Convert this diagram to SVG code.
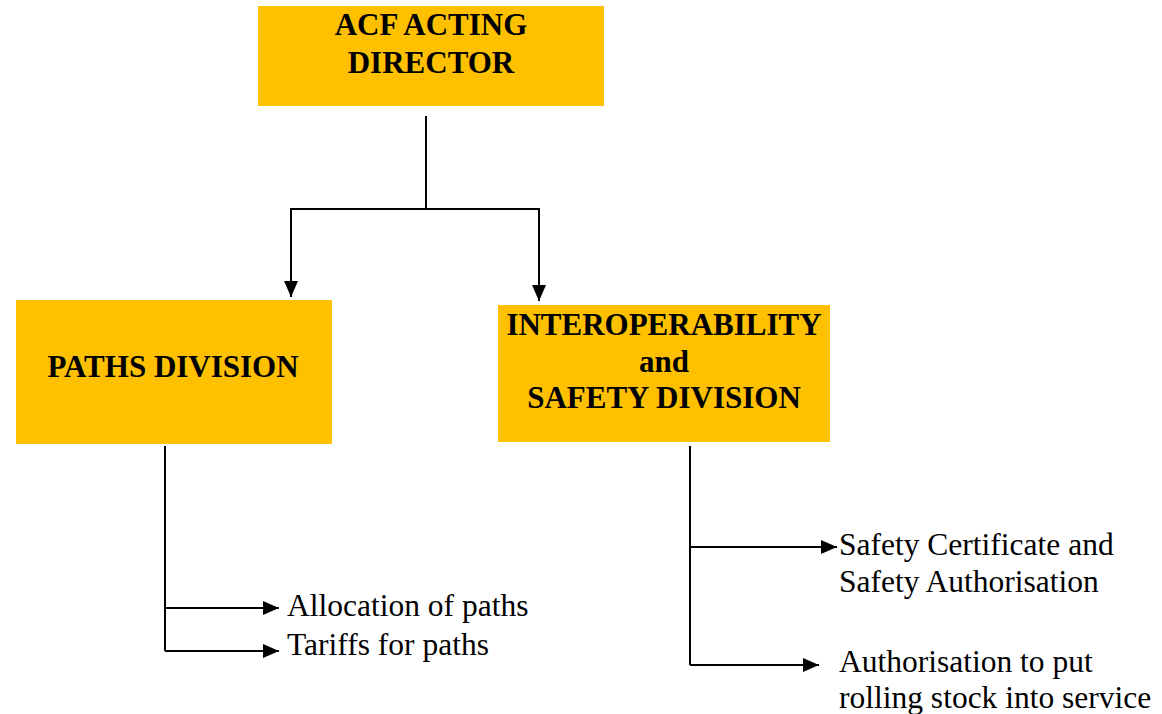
<svg xmlns="http://www.w3.org/2000/svg" width="1162" height="714" viewBox="0 0 1162 714">
  <style>
    .box { fill: #FFC000; }
    text { font-family: 'Liberation Serif', 'Times New Roman', Times, serif; fill: #000; }
    .hd { font-weight: bold; font-size: 31px; text-anchor: middle; }
    .lbl { font-size: 31.5px; }
    .ln { fill: none; stroke: #000; stroke-width: 2; }
  </style>
  <defs>
    <marker id="arr" markerUnits="userSpaceOnUse" markerWidth="17" markerHeight="15" refX="16" refY="7" orient="auto">
      <path d="M0,0 L16,7 L0,14 z" fill="#000"/>
    </marker>
  </defs>
  <rect width="1162" height="714" fill="#fff"/>

  <g id="director">
    <rect class="box" x="258" y="6" width="346" height="100"/>
    <text class="hd" x="431" y="35">ACF ACTING</text>
    <text class="hd" x="431" y="73">DIRECTOR</text>
  </g>

  <g id="paths-division">
    <rect class="box" x="16" y="300" width="316" height="144"/>
    <text class="hd" x="173" y="377">PATHS DIVISION</text>
  </g>

  <g id="interop-division">
    <rect class="box" x="498" y="305" width="332" height="137"/>
    <text class="hd" x="664" y="335">INTEROPERABILITY</text>
    <text class="hd" x="664" y="372">and</text>
    <text class="hd" x="664" y="408">SAFETY DIVISION</text>
  </g>

  <g id="labels">
    <text class="lbl" x="287" y="616">Allocation of paths</text>
    <text class="lbl" x="287" y="655">Tariffs for paths</text>
    <text class="lbl" x="839" y="555">Safety Certificate and</text>
    <text class="lbl" x="839" y="592">Safety Authorisation</text>
    <text class="lbl" x="839" y="672">Authorisation to put</text>
    <text class="lbl" x="839" y="708">rolling stock into service</text>
  </g>

  <g id="connectors">
    <path class="ln" d="M426,116 V209"/>
    <path class="ln" d="M426,209 H291 V297" marker-end="url(#arr)"/>
    <path class="ln" d="M426,209 H539 V301" marker-end="url(#arr)"/>
    <path class="ln" d="M165,446 V651"/>
    <path class="ln" d="M165,608 H279" marker-end="url(#arr)"/>
    <path class="ln" d="M165,651 H279" marker-end="url(#arr)"/>
    <path class="ln" d="M690,446 V665"/>
    <path class="ln" d="M690,547 H837" marker-end="url(#arr)"/>
    <path class="ln" d="M690,665 H819" marker-end="url(#arr)"/>
  </g>
</svg>
